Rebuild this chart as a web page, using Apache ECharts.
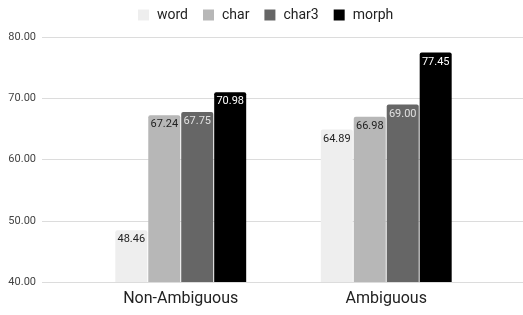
<!DOCTYPE html>
<html>
<head>
<meta charset="utf-8">
<script src="https://cdn.jsdelivr.net/npm/echarts@6/dist/echarts.min.js"></script>
<style>
  html, body { margin: 0; padding: 0; background: #fff; }
  #chart { width: 523px; height: 315px; }
</style>
</head>
<body>
<div id="chart"></div>
<script>
const categories = ['Non-Ambiguous', 'Ambiguous'];
const seriesNames = ['word', 'char', 'char3', 'morph'];
const word = [48.46, 64.89];
const char = [67.24, 66.98];
const char3 = [67.75, 69.00];
const morph = [70.98, 77.45];
const yTicks = [40, 50, 60, 70, 80];

const colors = ['#eeeeee', '#b7b7b7', '#666666', '#000000'];
const labelColors = ['#222222', '#222222', '#e0e0e0', '#ffffff'];
const values = [word, char, char3, morph];

const chart = echarts.init(document.getElementById('chart'), null, { renderer: 'canvas' });

const option = {
  animation: false,
  textStyle: { fontFamily: 'Roboto' },
  legend: {
    data: seriesNames,
    top: 3,
    left: 133,
    itemWidth: 11,
    itemHeight: 11,
    itemGap: 15,
    icon: 'rect',
    textStyle: { fontSize: 14, color: '#222', fontFamily: 'Roboto', padding: [0, 0, 0, 3] }
  },
  grid: [
    { left: 42, right: 0, top: 37, bottom: 33 },
    { left: 78, width: 411, top: 37, bottom: 33 }
  ],
  xAxis: [
    { type: 'category', gridIndex: 0, data: [''], show: false },
    {
      type: 'category',
      gridIndex: 1,
      data: categories,
      axisLine: { show: false },
      axisTick: { show: false },
      axisLabel: { fontSize: 16, color: '#222', margin: 9, fontFamily: 'Roboto' }
    }
  ],
  yAxis: [
    {
      type: 'value',
      gridIndex: 0,
      min: yTicks[0],
      max: yTicks[yTicks.length - 1],
      interval: 10,
      axisLine: { show: false },
      axisTick: { show: false },
      axisLabel: {
        fontSize: 11,
        color: '#444',
        margin: 6,
        formatter: v => v.toFixed(2)
      },
      splitLine: { lineStyle: { color: '#dcdcdc', width: 1 } }
    },
    {
      type: 'value',
      gridIndex: 1,
      min: yTicks[0],
      max: yTicks[yTicks.length - 1],
      interval: 10,
      show: false,
      splitLine: { show: false }
    }
  ],
  series: seriesNames.map((name, i) => ({
    name: name,
    type: 'bar',
    xAxisIndex: 1,
    yAxisIndex: 1,
    data: values[i],
    barWidth: 32,
    barGap: '3%',
    itemStyle: { color: colors[i], borderRadius: [2, 2, 0, 0] },
    label: {
      show: true,
      position: 'insideTop',
      distance: 4,
      fontSize: 11,
      color: labelColors[i],
      textBorderWidth: 0,
      formatter: p => p.value.toFixed(2)
    }
  }))
};

chart.setOption(option);
</script>
</body>
</html>
